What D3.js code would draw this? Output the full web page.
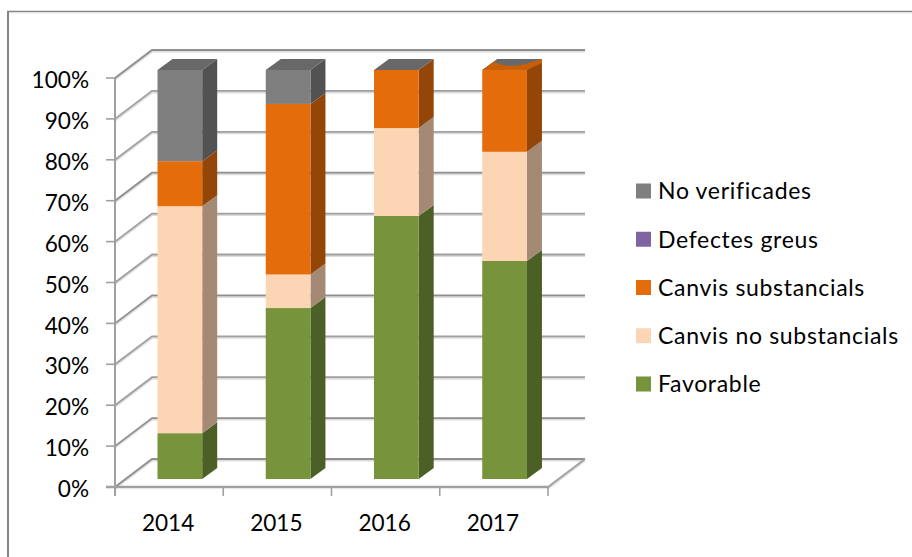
<!DOCTYPE html>
<html><head><meta charset="utf-8"><script src="https://cdn.jsdelivr.net/npm/d3@7"></script>
<style>html,body{margin:0;padding:0;background:#fff}svg{display:block}text{font-family:Lato,"Open Sans",sans-serif;fill:#000}</style></head>
<body><svg id="c" width="912" height="557"></svg>
<script>
const years = ["2014","2015","2016","2017"];
const seriesNames = ["Favorable","Canvis no substancials","Canvis substancials","Defectes greus","No verificades"];
const favorable = [11.2,41.8,64.3,53.3];
const noSubst = [55.5,8.2,21.5,26.7];
const subst = [11,41.7,14.2,20];
const greus = [0,0,0,0];
const noVerif = [22.3,8.3,0,0];
const colors = ["#77933c","#fcd5b5","#e46c0a","#8064a2","#7f7f7f"];
const sideColors = ["#4c5f26","#a48a74","#934607","#533f6a","#525252"];
const ticks = d3.range(0,101,10);
const values = [favorable,noSubst,subst,greus,noVerif];

const svg = d3.select("#c");
const W=912,H=557;
const x = d3.scaleBand().domain(years).range([115,548]).paddingInner(0).paddingOuter(0);
const y = d3.scaleLinear().domain([0,100]).range([487,78]);
const depth = {dx:37,dy:-28};
const barInset = 42.5, barW = 44.7, barLift = 8, side = {dx:15,dy:-11};
const grey="#a0a0a0";

svg.append("line").attr("x1",8).attr("x2",8).attr("y1",11).attr("y2",H).attr("stroke","#858585").attr("stroke-width",2);
svg.append("line").attr("x1",7).attr("x2",W).attr("y1",11.5).attr("y2",11.5).attr("stroke","#858585").attr("stroke-width",1.4);
svg.append("line").attr("x1",9).attr("x2",W).attr("y1",12.8).attr("y2",12.8).attr("stroke","#e2e2e2").attr("stroke-width",1);

const grid = svg.append("g");
ticks.forEach(t=>{
  [["#dcdcdc",2.6,1.2],[(t%30===10||t===0)?"#8f8f8f":"#a0a0a0",1.8,0]].forEach(([c,w,o])=>{
    grid.append("path").attr("fill","none").attr("stroke",c).attr("stroke-width",w)
      .attr("d",d3.line()([[115,y(t)+o],[115+depth.dx,y(t)+depth.dy+o],[548+depth.dx,y(t)+depth.dy+o]]));
  });
});
[["#dcdcdc",2.6,1.2],[grey,1.8,0]].forEach(([c,w,o])=>{
  grid.append("path").attr("fill","none").attr("stroke",c).attr("stroke-width",w)
    .attr("d",d3.line()([[548,y(0)+o],[548+depth.dx,y(0)+depth.dy+o]]));
});
grid.append("line").attr("x1",115).attr("x2",115).attr("y1",y(100)).attr("y2",y(0)+9).attr("stroke",grey).attr("stroke-width",2);
grid.append("line").attr("x1",106).attr("x2",548).attr("y1",y(0)).attr("y2",y(0)).attr("stroke",grey).attr("stroke-width",2.4);
ticks.forEach(t=>grid.append("line").attr("x1",106).attr("x2",115).attr("y1",y(t)).attr("y2",y(t)).attr("stroke",grey).attr("stroke-width",1.6));
x.domain().concat("end").forEach(k=>{
  const px = k==="end"?548:x(k);
  grid.append("line").attr("x1",px).attr("x2",px).attr("y1",y(0)).attr("y2",y(0)+9).attr("stroke",grey).attr("stroke-width",1.6);
});

const bars = svg.append("g");
years.forEach((yr,i)=>{
  let cum=0;
  const x0 = x(yr)+barInset, x1 = x0+barW;
  values.forEach((v,s)=>{
    const val=v[i]; if(val<=0) return;
    const yb=y(cum)-barLift, yt=y(cum+val)-barLift; cum+=val;
    bars.append("polygon").attr("fill",sideColors[s])
      .attr("points",[[x1,yb],[x1+side.dx,yb+side.dy],[x1+side.dx,yt+side.dy],[x1,yt]].join(" "));
    bars.append("rect").attr("x",x0).attr("y",yt).attr("width",barW).attr("height",yb-yt).attr("fill",colors[s]);
  });
  const ty=y(100)-barLift;
  const topPts=[[x0,ty],[x0+side.dx,ty+side.dy],[x1+side.dx,ty+side.dy],[x1,ty]];
  bars.append("polygon").attr("fill","#686868").attr("points",topPts.join(" "));
  if(yr==="2017"){
    // the thin orange lip along the front of the last bar's top
    bars.append("path").attr("fill","#c8600a")
      .attr("d",`M${x0},${ty}L${x0+side.dx*.75},${ty+side.dy*.75}Q${x0+barW*.6},${ty-1} ${x1},${ty+side.dy*.6}L${x1+side.dx},${ty+side.dy}L${x1+side.dx},${ty+side.dy+4}L${x1},${ty}Z`);
  }
});

svg.append("g").selectAll("text").data(ticks).join("text")
  .attr("x",89).attr("y",d=>y(d)+2).attr("dy","0.36em").attr("text-anchor","end").attr("font-size",22.6).text(d=>d+"%");
svg.append("g").selectAll("text").data(years).join("text")
  .attr("x",d=>x(d)+x.bandwidth()/2-1).attr("y",531).attr("text-anchor","middle").attr("font-size",22.6).text(d=>d);

const legY = d3.scalePoint().domain(seriesNames).range([384,191]);
const leg = svg.append("g");
seriesNames.forEach((n,i)=>{
  leg.append("rect").attr("x",636).attr("y",legY(n)-7.5).attr("width",15).attr("height",15).attr("fill",colors[i]);
  leg.append("text").attr("x",658).attr("y",legY(n)).attr("dy","0.36em").attr("font-size",23).attr("letter-spacing",0.68).text(n);
});
</script></body></html>
